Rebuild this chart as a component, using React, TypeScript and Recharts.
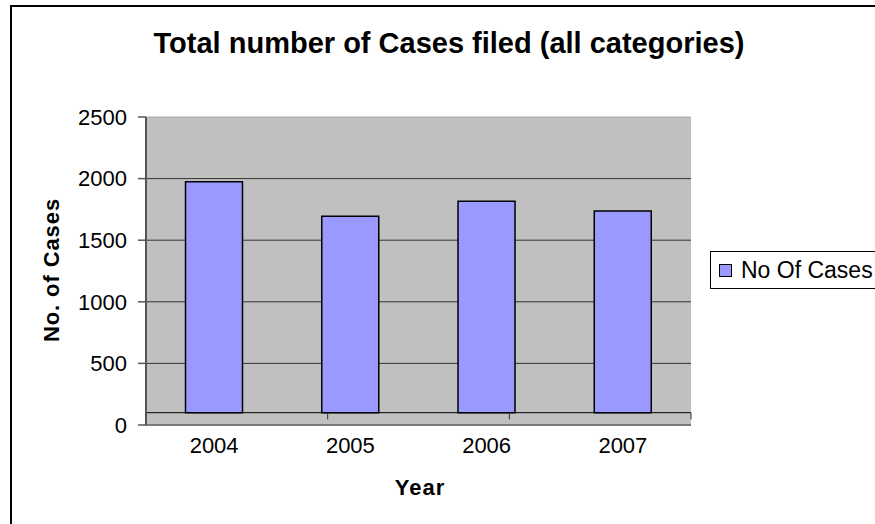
import React from 'react';
import {
  BarChart,
  Bar,
  XAxis,
  YAxis,
  CartesianGrid,
  Legend,
  ReferenceLine,
  Customized,
} from 'recharts';

// Chart data
const years = ['2004', '2005', '2006', '2007'];
const caseCounts = [1975, 1694, 1817, 1738];
const yTicks = [0, 500, 1000, 1500, 2000, 2500];
const gridValues = [500, 1000, 1500, 2000];
const seriesName = 'No Of Cases';
const titleText = 'Total number of Cases filed (all categories)';
const xTitle = 'Year';
const yTitle = 'No. of Cases';

// Floor of the plot: bars rise from this level
const FLOOR = 100;
const FLOOR_TICK_END = 45;
const boundaries = [1, 2, 3];

const W = 875;
const H = 524;
const FONT = '"Liberation Sans", Arial, sans-serif';

const data = years.map((year, i) => ({
  year,
  cases: caseCounts[i],
  span: [FLOOR, caseCounts[i]],
}));

const Titles = () => (
  <g fontFamily={FONT} fill="#000">
    <text x={449} y={53} textAnchor="middle" fontSize={29} fontWeight="bold">
      {titleText}
    </text>
    <text x={420} y={495} textAnchor="middle" fontSize={22} fontWeight="bold" letterSpacing={1}>
      {xTitle}
    </text>
    <text
      x={0}
      y={0}
      textAnchor="middle"
      fontSize={22}
      fontWeight="bold"
      letterSpacing={0.9}
      transform="translate(59,270) rotate(-90)"
    >
      {yTitle}
    </text>
  </g>
);

const LegendBox = () => (
  <div
    style={{
      border: '1px solid #000',
      height: 38,
      width: 180,
      boxSizing: 'border-box',
      background: '#fff',
      display: 'flex',
      alignItems: 'center',
      fontFamily: FONT,
      fontSize: 23,
      color: '#000',
      whiteSpace: 'nowrap',
    }}
  >
    <span
      style={{
        display: 'inline-block',
        width: 11,
        height: 11,
        background: '#9999FF',
        border: '1px solid #000',
        marginLeft: 8,
        marginRight: 9,
      }}
    />
    <span>{seriesName}</span>
  </div>
);

export default function App() {
  return (
    <div
      style={{
        position: 'absolute',
        left: 0,
        top: 0,
        width: W,
        height: H,
        overflow: 'hidden',
        background: '#fff',
      }}
    >
      <div
        style={{
          position: 'absolute',
          left: 10,
          top: 5,
          width: 900,
          height: 600,
          borderTop: '2px solid #000',
          borderLeft: '2px solid #000',
        }}
      />
      <div style={{ position: 'absolute', left: 0, top: 0 }}>
        <BarChart
          width={W}
          height={H}
          data={data}
          margin={{ top: 117, right: 184, bottom: 69, left: 86 }}
          barCategoryGap="29%"
        >
          <CartesianGrid
            vertical={false}
            horizontalValues={gridValues}
            stroke="#333"
            fill="#C0C0C0"
            fillOpacity={1}
          />
          <XAxis
            dataKey="year"
            height={30}
            axisLine={{ stroke: '#7a7a7a', strokeWidth: 2 }}
            tickLine={false}
            tickSize={0}
            tickMargin={12}
            tick={{ fontSize: 22, fill: '#000', fontFamily: FONT }}
          />
          <XAxis xAxisId="floor" type="number" domain={[0, 4]} hide />
          <YAxis
            width={60}
            domain={[0, 2500]}
            ticks={yTicks}
            interval={0}
            axisLine={{ stroke: '#555', strokeWidth: 2 }}
            tickLine={{ stroke: '#555', strokeWidth: 1.5 }}
            tickSize={8}
            tickMargin={11}
            tick={{ fontSize: 22, fill: '#000', fontFamily: FONT }}
          />
          <ReferenceLine y={2500} stroke="#a8a8a8" strokeWidth={1} />
          <ReferenceLine xAxisId="floor" x={4} stroke="#8a8a8a" strokeWidth={1.5} />
          <Bar
            dataKey="span"
            name={seriesName}
            fill="#9999FF"
            stroke="#000"
            strokeWidth={1.5}
            isAnimationActive={false}
          />
          <ReferenceLine y={FLOOR} stroke="#000" strokeWidth={1} />
          {boundaries.map((b) => (
            <ReferenceLine
              key={b}
              xAxisId="floor"
              segment={[
                { x: b, y: FLOOR },
                { x: b, y: FLOOR_TICK_END },
              ]}
              stroke="#333"
              strokeWidth={1}
            />
          ))}
          <Legend
            layout="vertical"
            align="center"
            verticalAlign="middle"
            content={() => <LegendBox />}
            wrapperStyle={{ left: 710, top: 251, width: 180, height: 38 }}
          />
          <Customized component={<Titles />} />
        </BarChart>
      </div>
    </div>
  );
}
